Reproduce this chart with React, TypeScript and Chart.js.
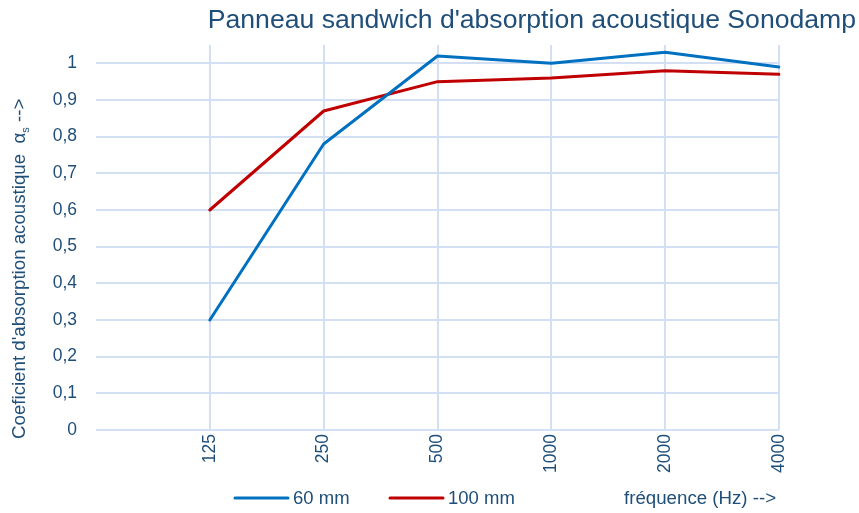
import React, { useEffect, useRef } from 'react';
import { Chart, registerables } from 'chart.js';

Chart.register(...registerables);

// ---- data ----
const categories = ['', '125', '250', '500', '1000', '2000', '4000'];
const series60mm = [null, 0.3, 0.78, 1.02, 1.0, 1.03, 0.99];
const series100mm = [null, 0.6, 0.87, 0.95, 0.96, 0.98, 0.97];
const seriesNames = ['60 mm', '100 mm'];
const yTickValues = [0, 0.1, 0.2, 0.3, 0.4, 0.5, 0.6, 0.7, 0.8, 0.9, 1.0];
const yMax = 1.05;
const titleText = "Panneau sandwich d'absorption acoustique Sonodamp";
const xAxisTitle = 'fréquence (Hz) -->';
const yAxisTitleMain = "Coeficient d'absorption acoustique  α";
const yAxisTitleSub = 's';
const yAxisTitleEnd = ' -->';

// ---- styles ----
const FONT = "'Liberation Sans', Arial, sans-serif";
const TEXT = '#1F4E79';
const GRID = '#D3DFF2';
const BLUE = '#0070C0';
const RED = '#C00000';

const overlayPlugin = {
  id: 'overlay',
  afterDraw(chart: any) {
    const ctx = chart.ctx as CanvasRenderingContext2D;
    ctx.save();
    ctx.fillStyle = TEXT;

    // title
    ctx.font = `26.6px ${FONT}`;
    ctx.textAlign = 'right';
    ctx.textBaseline = 'alphabetic';
    ctx.fillText(titleText, 856, 28);

    // y axis title (rotated)
    ctx.save();
    ctx.translate(25, 439);
    ctx.rotate(-Math.PI / 2);
    ctx.textAlign = 'left';
    ctx.textBaseline = 'alphabetic';
    ctx.font = `18.7px ${FONT}`;
    ctx.fillText(yAxisTitleMain, 0, 0);
    let w = ctx.measureText(yAxisTitleMain).width;
    ctx.font = `11px ${FONT}`;
    ctx.fillText(yAxisTitleSub, w, 4);
    w += ctx.measureText(yAxisTitleSub).width;
    ctx.font = `18.7px ${FONT}`;
    ctx.fillText(yAxisTitleEnd, w, 0);
    ctx.restore();

    // legend
    const colors = [BLUE, RED];
    const lineX = [235, 390];
    const ly = 498;
    ctx.lineWidth = 3;
    ctx.lineCap = 'round';
    ctx.font = `18.5px ${FONT}`;
    ctx.textAlign = 'left';
    ctx.textBaseline = 'middle';
    seriesNames.forEach((name, i) => {
      ctx.strokeStyle = colors[i];
      ctx.beginPath();
      ctx.moveTo(lineX[i], ly);
      ctx.lineTo(lineX[i] + 53, ly);
      ctx.stroke();
      ctx.fillStyle = TEXT;
      ctx.fillText(name, lineX[i] + 58, ly + 1);
    });

    // x axis title
    ctx.font = `18.7px ${FONT}`;
    ctx.fillText(xAxisTitle, 624, ly + 1);
    ctx.restore();
  },
};

export default function App() {
  const ref = useRef<HTMLCanvasElement | null>(null);

  useEffect(() => {
    if (!ref.current) return;
    Chart.defaults.font.family = FONT;
    const chart = new Chart(ref.current, {
      type: 'line',
      data: {
        labels: categories,
        datasets: [
          {
            label: seriesNames[0],
            data: series60mm,
            borderColor: BLUE,
            backgroundColor: BLUE,
            borderWidth: 3,
            pointRadius: 0,
            tension: 0,
            borderCapStyle: 'round',
            borderJoinStyle: 'round',
          },
          {
            label: seriesNames[1],
            data: series100mm,
            borderColor: RED,
            backgroundColor: RED,
            borderWidth: 3,
            pointRadius: 0,
            tension: 0,
            borderCapStyle: 'round',
            borderJoinStyle: 'round',
          },
        ],
      },
      options: {
        responsive: false,
        animation: false,
        devicePixelRatio: 1,
        layout: { padding: { left: 0, right: 80, top: 45, bottom: 0 } },
        plugins: {
          legend: { display: false },
          title: { display: false },
          tooltip: { enabled: false },
        },
        scales: {
          x: {
            type: 'category',
            offset: false,
            border: { display: false },
            grid: {
              drawTicks: false,
              lineWidth: 2,
              color: (c: any) => (c.index === 0 ? 'rgba(0,0,0,0)' : GRID),
            },
            ticks: {
              color: TEXT,
              font: { size: 17.5, family: FONT },
              minRotation: 90,
              maxRotation: 90,
              padding: 4,
              autoSkip: false,
            },
            afterFit: (scale: any) => {
              scale.height = 83;
            },
          },
          y: {
            min: 0,
            max: yMax,
            border: { display: false },
            grid: { drawTicks: false, lineWidth: 2, color: GRID },
            ticks: {
              color: TEXT,
              font: { size: 17.5, family: FONT },
              padding: 19,
              callback: (v: any) => String(Math.round(Number(v) * 10) / 10).replace('.', ','),
            },
            afterBuildTicks: (scale: any) => {
              scale.ticks = yTickValues.map((v) => ({ value: v }));
            },
            afterFit: (scale: any) => {
              scale.width = 96;
            },
          },
        },
      },
      plugins: [overlayPlugin],
    } as any);
    return () => chart.destroy();
  }, []);

  return (
    <div style={{ position: 'absolute', left: 0, top: 0, width: 859, height: 513, background: '#fff' }}>
      <canvas ref={ref} width={859} height={513} style={{ display: 'block' }} />
    </div>
  );
}
